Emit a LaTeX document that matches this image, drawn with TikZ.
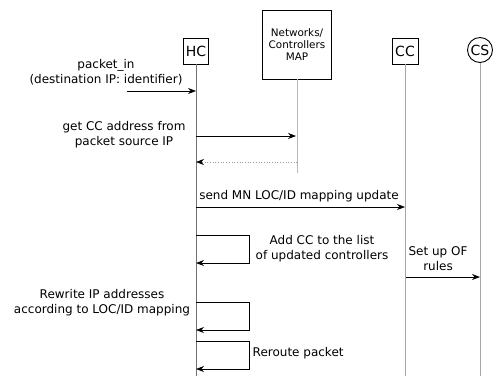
\documentclass[tikz,border=0pt]{standalone}
\usepackage{fontspec}
\setmainfont{DejaVu Sans}
\usetikzlibrary{arrows.meta}
\begin{document}
\begin{tikzpicture}[x=1pt, y=-1pt]

\tikzstyle{actor}=[draw=black, fill=white, line width=0.9pt, inner sep=1pt,
font=\fontsize{14}{16}\selectfont]
\tikzstyle{lifeline}=[line width=0.9pt, draw=gray!70]
\tikzstyle{msg}=[line width=0.7pt, -{Stealth[length=8pt,width=6pt]}]
\tikzstyle{msglabel}=[align=center, inner sep=0pt, font=\fontsize{12}{15}\selectfont]

\useasboundingbox (0,0) rectangle (500,376);
\coordinate (bottom) at (0,376);

% actors
\node[actor, minimum width=25, minimum height=26] (hc) at (196,51) {HC};
\node[actor, minimum width=69, minimum height=69, align=center,
font=\fontsize{10.4}{12}\selectfont] (map) at (297,44.5) {Networks/\\Controllers\\MAP};
\node[actor, minimum width=26, minimum height=26] (cc) at (405,51) {CC};
\node[actor, circle, minimum size=25, inner sep=0pt] (cs) at (480,50) {CS};

% lifelines
\coordinate (map end) at (297,173);
\draw[lifeline, draw=gray!90!black] (hc.south) -- (hc.south |- bottom);
\draw[lifeline, draw=gray!55] (map.south) -- (map end);
\draw[lifeline] (cc.south) -- (cc.south |- bottom);
\draw[lifeline] (cs.south) -- (cs.south |- bottom);

% rows
\coordinate (in) at (127,91);
\coordinate (r1) at (0,136);
\coordinate (r2) at (0,162);
\coordinate (r3) at (0,207);
\coordinate (r4) at (0,235);
\coordinate (r5) at (0,277);
\coordinate (r6) at (0,302);
\coordinate (r7) at (0,341);

% messages
\draw[msg] (in) -- (in -| hc);
\node[msglabel] (in label) at (106,72.5) {packet\_in\\(destination IP: identifier)};

\draw[msg] (hc |- r1) -- ([xshift=-1pt]map |- r1);
\node[msglabel] (get label) at (124,134.5) {get CC address from\\packet source IP};

\draw[msg, draw=gray!80, dotted, -{Stealth[length=8pt,width=6pt,black]}] (map |- r2) -- (hc |- r2);

\draw[msg] (hc |- r3) -- (cc |- r3);
\node[msglabel] (send label) at (299,196) {send MN LOC/ID mapping update};

\draw[msg] (hc |- r4) -- ++(53,0) -- ++(0,28) -- ++(-53,0);
\node[msglabel] (add label) at (322,248.5) {Add CC to the list\\of updated controllers};

\draw[msg] ([xshift=1pt]cc |- r5) -- (cs |- r5);
\node[msglabel] (of label) at (438,259) {Set up OF\\rules};

\draw[msg] (hc |- r6) -- ++(53,0) -- ++(0,28) -- ++(-53,0);
\node[msglabel] (rewrite label) at (102,303) {Rewrite IP addresses\\according to LOC/ID mapping};

\draw[msg] (hc |- r7) -- ++(53,0) -- ++(0,28) -- ++(-53,0);
\node[msglabel, anchor=west] (reroute label) at (252.5,353) {Reroute packet};

\end{tikzpicture}
\end{document}
